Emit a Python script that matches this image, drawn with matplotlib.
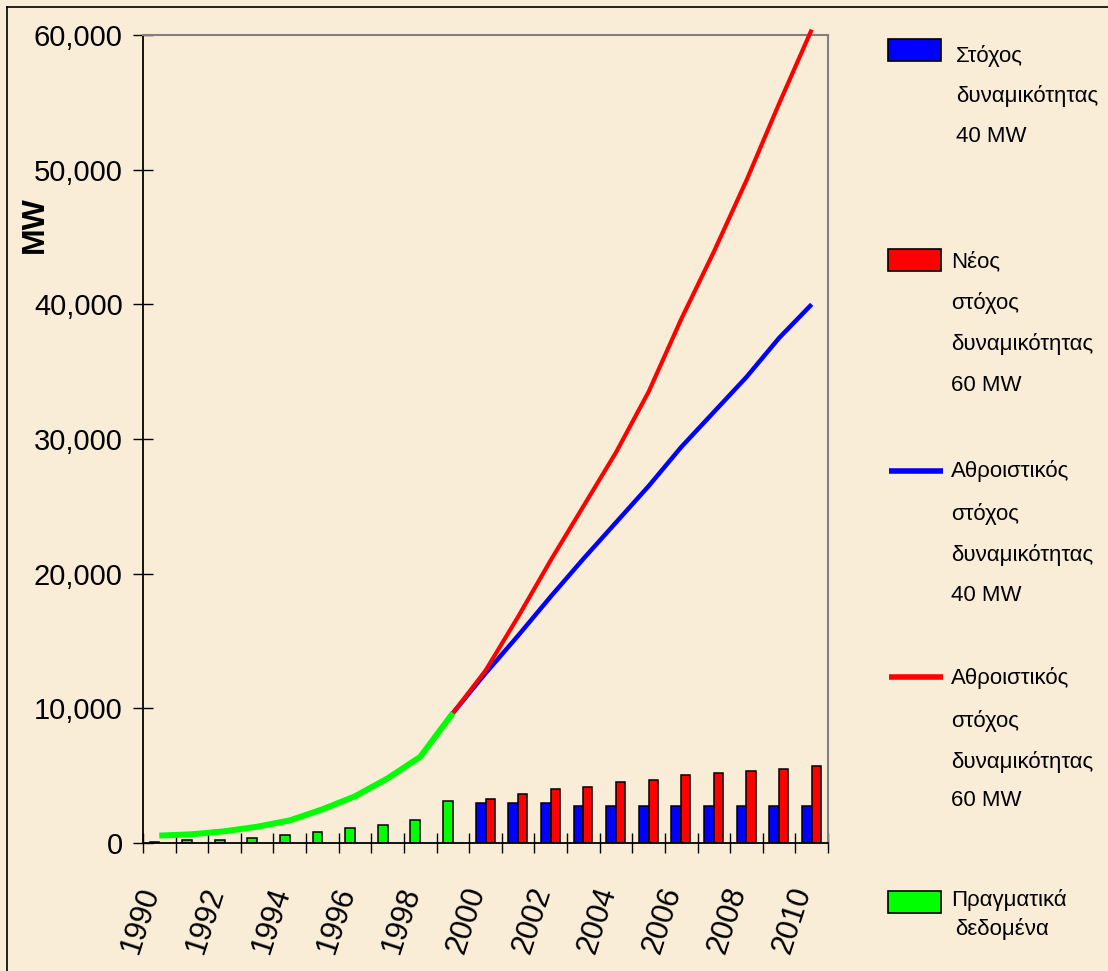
import numpy as np
import matplotlib
matplotlib.use('Agg')
import matplotlib.pyplot as plt
from matplotlib.patches import Rectangle
from matplotlib.lines import Line2D
from matplotlib.transforms import ScaledTranslation

# data (MW)
years = list(range(1990, 2011))
actual_years = list(range(1990, 2000))
actual_annual = [100, 200, 200, 370, 570, 840, 1090, 1360, 1730, 3120]
actual_cum = [550, 650, 870, 1210, 1680, 2500, 3470, 4800, 6400, 9650]

target_years = list(range(2000, 2011))
target40_annual = [2960, 2960, 2960, 2770, 2770, 2770, 2770, 2770, 2770, 2770, 2770]
target60_annual = [3290, 3610, 4000, 4150, 4520, 4670, 5070, 5190, 5330, 5510, 5700]

cum_years = list(range(1999, 2011))
target40_cum = [9650, 12600, 15400, 18300, 21100, 23800, 26500, 29400, 32000, 34600, 37500, 40000]
target60_cum = [9650, 12800, 16800, 21000, 25000, 29000, 33500, 38900, 43900, 49200, 54900, 60400]

yticks = [0, 10000, 20000, 30000, 40000, 50000, 60000]

bg = '#FAEDD7'
W, H = 1108, 971
plt.rcParams['font.family'] = ['Liberation Sans', 'DejaVu Sans']

fig = plt.figure(figsize=(W / 100, H / 100), dpi=100, facecolor=bg)
ax = fig.add_axes([143 / W, 1 - 843 / H, (828 - 143) / W, (843 - 35) / H])
ax.set_facecolor('none')


def pos(yrs):
    return np.array(yrs) - 1990


bw = 0.3
# left bar slot: green (actual) then blue (40 GW target)
ax.bar(pos(actual_years), actual_annual, width=-bw, align='edge',
       color='#00FF00', edgecolor='black', linewidth=1.1, zorder=2)
ax.bar(pos(target_years), target40_annual, width=-bw, align='edge',
       color='#0000FF', edgecolor='black', linewidth=1.1, zorder=2)
# right bar slot: red (60 GW target)
ax.bar(pos(target_years), target60_annual, width=bw - 0.02, align='edge',
       color='#FF0000', edgecolor='black', linewidth=1.1, zorder=2)

ax.plot(pos(cum_years), target40_cum, color='#0000FF', lw=3.2, zorder=3,
        solid_capstyle='butt')
ax.plot(pos(cum_years), target60_cum, color='#FF0000', lw=3.0, zorder=4,
        clip_on=False, solid_capstyle='butt')
ax.plot(pos(actual_years), actual_cum, color='#00FF00', lw=4.3, zorder=5,
        solid_capstyle='butt')

ax.set_xlim(-0.5, len(years) - 0.5)
ax.set_ylim(0, 60000)

ax.set_yticks(yticks)
ax.set_yticklabels(['{:,}'.format(v) for v in yticks], fontsize=21)
ax.tick_params(axis='y', direction='inout', length=15, width=1, pad=7)

ax.set_xticks(np.arange(-0.5, len(years), 1.0))
ax.set_xticklabels([])
ax.tick_params(axis='x', which='major', direction='inout', length=15, width=1)
ax.set_xticks(pos(years[::2]), minor=True)
ax.set_xticklabels([str(y) for y in years[::2]], minor=True, fontsize=22,
                   rotation=72, ha='right', va='top')
ax.tick_params(axis='x', which='minor', length=0, pad=29)
shift = ScaledTranslation(6 / 100, 0, fig.dpi_scale_trans)
for lab in ax.get_xticklabels(minor=True):
    lab.set_transform(lab.get_transform() + shift)

for s in ['left', 'bottom']:
    ax.spines[s].set_color('black')
    ax.spines[s].set_linewidth(1.3)
for s in ['top', 'right']:
    ax.spines[s].set_color('#808080')
    ax.spines[s].set_linewidth(1.5)

fig.text(35 / W, 1 - 225 / H, 'MW', rotation=90, ha='center', va='center',
         fontsize=23, fontweight='bold')

# legend, placed by hand
def fy(p):
    return 1 - p / H


entries = [
    ('box', '#0000FF', 50, 956, ['Στόχος', 'δυναμικότητας', '40 MW'], [62, 102, 142]),
    ('box', '#FF0000', 260, 951, ['Νέος', 'στόχος', 'δυναμικότητας', '60 MW'], [267, 309, 350, 391]),
    ('line', '#0000FF', 471, 951, ['Αθροιστικός', 'στόχος', 'δυναμικότητας', '40 MW'], [477, 520, 561, 601]),
    ('line', '#FF0000', 677, 951, ['Αθροιστικός', 'στόχος', 'δυναμικότητας', '60 MW'], [684, 727, 768, 806]),
    ('box', '#00FF00', 902, 951, ['Πραγματικά', 'δεδομένα'], [906, 935]),
]
for kind, col, yc, tx, lines, bases in entries:
    if kind == 'box':
        fig.add_artist(Rectangle((888 / W, fy(yc + 11)), 53 / W, 22 / H,
                                 facecolor=col, edgecolor='black', lw=1.2,
                                 transform=fig.transFigure))
    else:
        fig.add_artist(Line2D([889 / W, 943 / W], [fy(yc), fy(yc)], color=col,
                              lw=4, transform=fig.transFigure,
                              solid_capstyle='butt'))
    for i, (t, b) in enumerate(zip(lines, bases)):
        x = tx
        if kind == 'box' and col == '#00FF00' and i == 1:
            x = 955
        fig.text(x / W, fy(b), t, ha='left', va='baseline', fontsize=16)

# outer frame (left and top edges)
fig.add_artist(Line2D([7 / W, 7 / W], [0, fy(7)], color='black', lw=1.2,
                      transform=fig.transFigure))
fig.add_artist(Line2D([7 / W, 1], [fy(7), fy(7)], color='black', lw=1.2,
                      transform=fig.transFigure))

fig.savefig('out.png', dpi=100, facecolor=bg)
